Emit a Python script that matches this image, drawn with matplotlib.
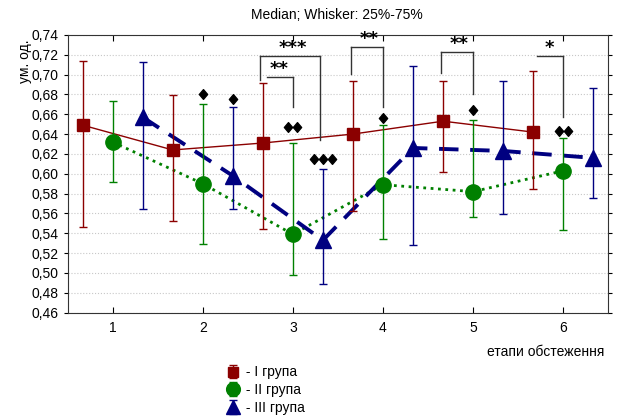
import numpy as np
import matplotlib
matplotlib.use("Agg")
import matplotlib.pyplot as plt
from matplotlib.path import Path
from matplotlib.ticker import FuncFormatter, MultipleLocator

plt.rcParams['font.family'] = ['Liberation Sans', 'DejaVu Sans']

# data (median, 25%, 75%)
stages = np.array([1, 2, 3, 4, 5, 6])
g1_med = [0.649, 0.624, 0.631, 0.640, 0.653, 0.642]
g1_q1 = [0.546, 0.552, 0.544, 0.562, 0.602, 0.585]
g1_q3 = [0.714, 0.679, 0.691, 0.694, 0.693, 0.704]
g2_med = [0.632, 0.590, 0.539, 0.589, 0.582, 0.603]
g2_q1 = [0.592, 0.529, 0.498, 0.534, 0.556, 0.543]
g2_q3 = [0.673, 0.670, 0.631, 0.649, 0.654, 0.636]
g3_med = [0.657, 0.598, 0.533, 0.626, 0.623, 0.616]
g3_q1 = [0.565, 0.564, 0.489, 0.528, 0.559, 0.576]
g3_q3 = [0.713, 0.667, 0.605, 0.709, 0.693, 0.686]
labels = [' - I група', ' - II група', ' - III група']

# diamond marks: (stage, group offset, count, height)
diamonds = [(2, 0, 1, 0.680), (2, 1, 1, 0.675), (3, 0, 2, 0.647),
            (3, 1, 3, 0.615), (4, 0, 1, 0.656), (5, 0, 1, 0.664),
            (6, 0, 2, 0.643)]
# brackets: (stage, right end, stars, top, left leg bottom, right leg bottom)
brackets = [(3, 'blue', '***', 0.719, 0.695, 0.634),
            (3, 'green', '**', 0.698, None, 0.667),
            (4, 'green', '**', 0.7275, 0.701, 0.667),
            (5, 'green', '**', 0.723, 0.702, 0.680),
            (6, 'green', '*', 0.719, None, 0.657)]

diamond_marker = Path([(0, 1), (0.85, 0), (0, -1), (-0.85, 0), (0, 1)],
                      [Path.MOVETO, Path.LINETO, Path.LINETO, Path.LINETO, Path.CLOSEPOLY])

fig = plt.figure(figsize=(6.2, 4.2), dpi=100)
ax = fig.add_axes([0.109, 0.2555, 0.872, 0.6615])

off = 1 / 3
groups = [
    (stages - off, g1_med, g1_q1, g1_q3, '#8b0000', 's', 8, '-', 1.0),
    (stages, g2_med, g2_q1, g2_q3, '#008000', 'o', 11, ':', 2.0),
    (stages + off, g3_med, g3_q1, g3_q3, '#000080', '^', 11, (0, (5, 3)), 2.8),
]
handles = []
for (x, med, q1, q3, col, mk, ms, ls, lw), lab in zip(groups, labels):
    med = np.array(med)
    yerr = [med - np.array(q1), np.array(q3) - med]
    ax.plot(x, med, color=col, linestyle=ls, linewidth=lw, zorder=2)
    h = ax.errorbar(x, med, yerr=yerr, fmt=mk, color=col, ecolor=col, elinewidth=1,
                    capsize=3, capthick=1, markersize=ms, zorder=3, label=lab)
    handles.append(h)

# significance brackets
for st, end, stars, top, lbot, rbot in brackets:
    xl = st - 0.36
    xr = st + 0.3 if end == 'blue' else st
    if lbot is not None:
        ax.plot([xl, xl], [lbot, top], color='#333333', lw=1, zorder=4)
        ax.plot([xl, xr], [top, top], color='#333333', lw=1, zorder=4)
    else:
        ax.plot([xl + 0.07, xr], [top, top], color='#333333', lw=1, zorder=4)
    ax.plot([xr, xr], [top, rbot], color='#333333', lw=1, zorder=4)
    ax.text((xl + xr) / 2 + 0.03, top - 0.001, stars, ha='center', va='bottom',
            fontsize=13, fontweight='bold', family='DejaVu Sans')

for st, g, n, h in diamonds:
    xs = st + g * off + (np.arange(n) - (n - 1) / 2) * 0.1
    ax.plot(xs, [h] * n, linestyle='none', marker=diamond_marker, markersize=7,
            color='black', zorder=5)

ax.set_xlim(0.5, 6.5)
ax.set_ylim(0.46, 0.74)
ax.set_xticks(stages)
ax.yaxis.set_major_locator(MultipleLocator(0.02))
ax.yaxis.set_major_formatter(FuncFormatter(lambda v, p: f'{v:.2f}'.replace('.', ',')))
ax.grid(axis='y', linestyle=':', color='#c8c8c8', linewidth=0.8)
ax.set_axisbelow(True)
ax.tick_params(axis='y', direction='out', right=True, labelsize=10, length=3)
ax.tick_params(axis='x', direction='in', top=True, labelsize=10, length=4, pad=6)
for s in ax.spines.values():
    s.set_color('#333333')

fig.text(0.543, 0.965, 'Median; Whisker: 25%-75%', ha='center', va='center', fontsize=10)
fig.text(0.04, 0.905, 'ум. од.', rotation=90, ha='center', va='top', fontsize=10)
fig.text(0.975, 0.162, 'етапи обстеження', ha='right', va='center', fontsize=10)

fig.legend(handles=handles, labels=labels, loc='upper left', bbox_to_anchor=(0.365, 0.13),
           frameon=False, fontsize=10, handlelength=1.0, handletextpad=0.1,
           labelspacing=0.28, borderaxespad=0, borderpad=0, markerscale=0.9)

fig.savefig('out.png', dpi=100)
